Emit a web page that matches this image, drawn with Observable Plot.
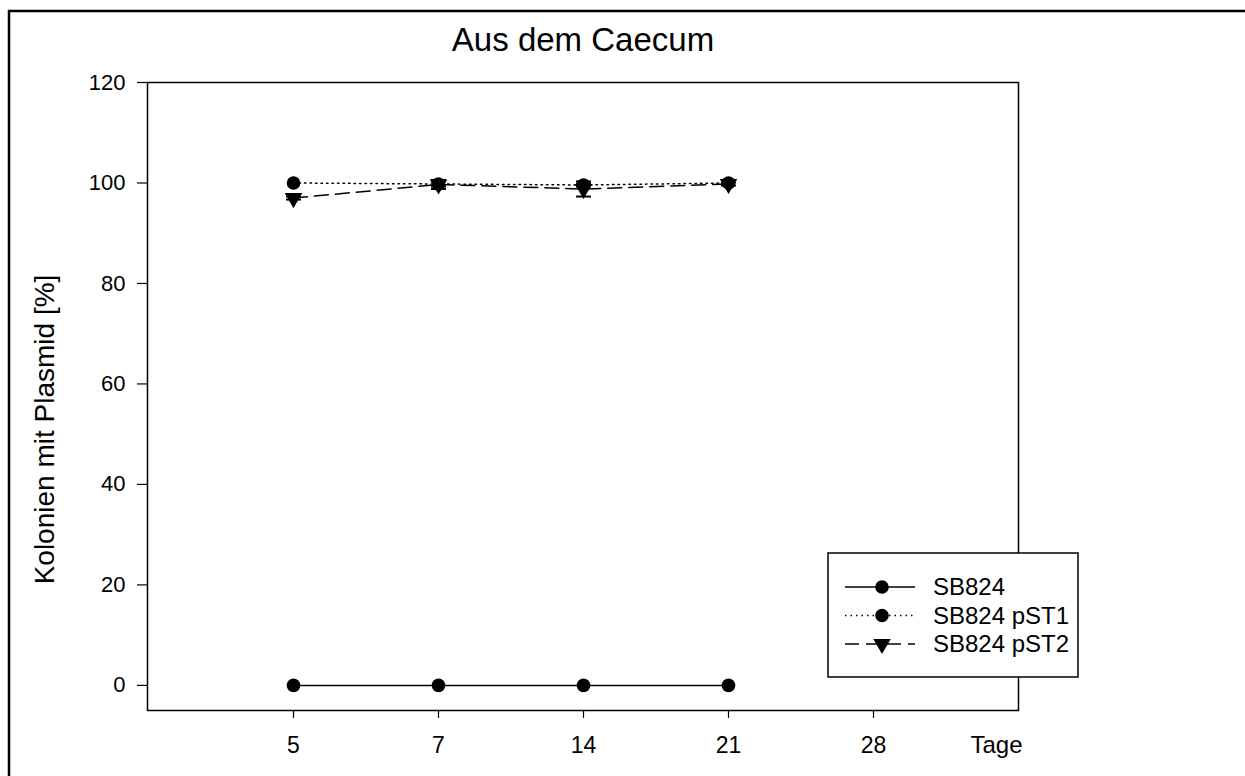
<!DOCTYPE html>
<html><head><meta charset="utf-8">
<script src="https://cdn.jsdelivr.net/npm/d3@7"></script>
<script src="https://cdn.jsdelivr.net/npm/@observablehq/plot@0.6"></script>
<style>body{margin:0;background:#fff;} #chart svg{display:block;}</style>
</head><body><div id="chart"></div>
<script>
// ---- data ----
const days = ["5", "7", "14", "21", "28"];
const sampledDays = ["5", "7", "14", "21"];
const seriesNames = ["SB824", "SB824 pST1", "SB824 pST2"];
const sb824 = [0, 0, 0, 0];
const pst1 = [100, 99.8, 99.6, 100];
const pst1Err = [0, 0.5, 0.3, 0];
const pst2 = [97.0, 99.7, 98.8, 99.8];
const pst2Err = [0.3, 0.9, 1.5, 0.3];
const yTicks = [0, 20, 40, 60, 80, 100, 120];
const titleText = "Aus dem Caecum";
const yLabel = "Kolonien mit Plasmid [%]";
const xLabel = "Tage";

// ---- styles ----
const font = "'Liberation Sans', Arial, sans-serif";
const styles = {
  "SB824": {dash: null, symbol: "circle", rotate: 0, r: 6.8},
  "SB824 pST1": {dash: "1.5,4", symbol: "circle", rotate: 0, r: 6.8},
  "SB824 pST2": {dash: "14,7", symbol: "triangle", rotate: 180, r: 6.5}
};

const valuesBySeries = [sb824, pst1, pst2];
const errBySeries = [sampledDays.map(() => 0), pst1Err, pst2Err];
const rows = [];
seriesNames.forEach((s, si) => {
  sampledDays.forEach((d, i) => {
    rows.push({series: s, day: d, value: valuesBySeries[si][i], err: errBySeries[si][i]});
  });
});
const errRows = rows.filter(r => r.err > 0);

const capSymbol = {
  draw(ctx, size) {
    const w = Math.sqrt(size / Math.PI);
    ctx.moveTo(-w, 0);
    ctx.lineTo(w, 0);
  }
};

const W = 1245, H = 776;
const mL = 147, mT = 82, mR = W - 1018, mB = H - 710;

const marks = [
  Plot.frame({stroke: "black", strokeWidth: 1.5}),
  Plot.axisY({ticks: yTicks, tickSize: 10, tickPadding: 12, fontSize: 22, label: null, strokeWidth: 1.2}),
  Plot.axisX({ticks: days, tickSize: 8, tickPadding: 18, fontSize: 23, label: null, strokeWidth: 1.2}),
  Plot.text([titleText], {frameAnchor: "top", lineAnchor: "middle", dy: -42, fontSize: 33, text: d => d}),
  Plot.text([yLabel], {frameAnchor: "left", textAnchor: "middle", lineAnchor: "middle", rotate: -90, dx: -102, dy: 33, fontSize: 28, text: d => d}),
  Plot.text([xLabel], {frameAnchor: "bottom-right", textAnchor: "end", lineAnchor: "middle", dx: 4, dy: 35, fontSize: 24, text: d => d}),
  Plot.ruleX(errRows, {x: "day", y1: d => d.value - d.err, y2: d => d.value + d.err, stroke: "black", strokeWidth: 1.5}),
  Plot.dot(errRows, {x: "day", y: d => d.value - d.err, symbol: capSymbol, r: 7.5, stroke: "black", strokeWidth: 2, fill: "none"}),
  Plot.dot(errRows, {x: "day", y: d => d.value + d.err, symbol: capSymbol, r: 7.5, stroke: "black", strokeWidth: 2, fill: "none"})
];
seriesNames.forEach(s => {
  const st = styles[s];
  const data = rows.filter(r => r.series === s);
  marks.push(Plot.line(data, {x: "day", y: "value", stroke: "black", strokeWidth: 1.5, strokeDasharray: st.dash}));
  marks.push(Plot.dot(data, {x: "day", y: "value", symbol: st.symbol, rotate: st.rotate, r: st.r, fill: "black", stroke: "none"}));
});

const chart = Plot.plot({
  width: W, height: H,
  marginLeft: mL, marginTop: mT, marginRight: mR, marginBottom: mB,
  style: {fontFamily: font, color: "black", background: "white", overflow: "visible"},
  x: {type: "point", domain: days, padding: 1, label: null},
  y: {domain: [-5, 120], label: null},
  marks
});
document.getElementById("chart").appendChild(chart);

// outer border and legend
const svg = d3.select(chart);
svg.append("rect").attr("x", 9).attr("y", 11).attr("width", W).attr("height", H)
  .attr("fill", "none").attr("stroke", "black").attr("stroke-width", 2.5);

const lg = svg.append("g").attr("font-family", font).attr("font-size", 24).attr("text-anchor", "start");
lg.append("rect").attr("x", 828).attr("y", 553).attr("width", 250).attr("height", 124)
  .attr("fill", "white").attr("stroke", "black").attr("stroke-width", 1.5);
seriesNames.forEach((s, i) => {
  const st = styles[s];
  const y = 587 + i * 28.5;
  lg.append("line").attr("x1", 845).attr("x2", 915).attr("y1", y).attr("y2", y)
    .attr("stroke", "black").attr("stroke-width", 1.5).attr("stroke-dasharray", st.dash);
  const sym = st.symbol === "circle" ? d3.symbolCircle : d3.symbolTriangle;
  lg.append("path").attr("d", d3.symbol(sym, Math.PI * st.r * st.r)())
    .attr("transform", `translate(882,${y}) rotate(${st.rotate})`).attr("fill", "black");
  lg.append("text").attr("x", 933).attr("y", y).attr("dy", "0.35em").attr("text-anchor", "start").text(s);
});
</script></body></html>
